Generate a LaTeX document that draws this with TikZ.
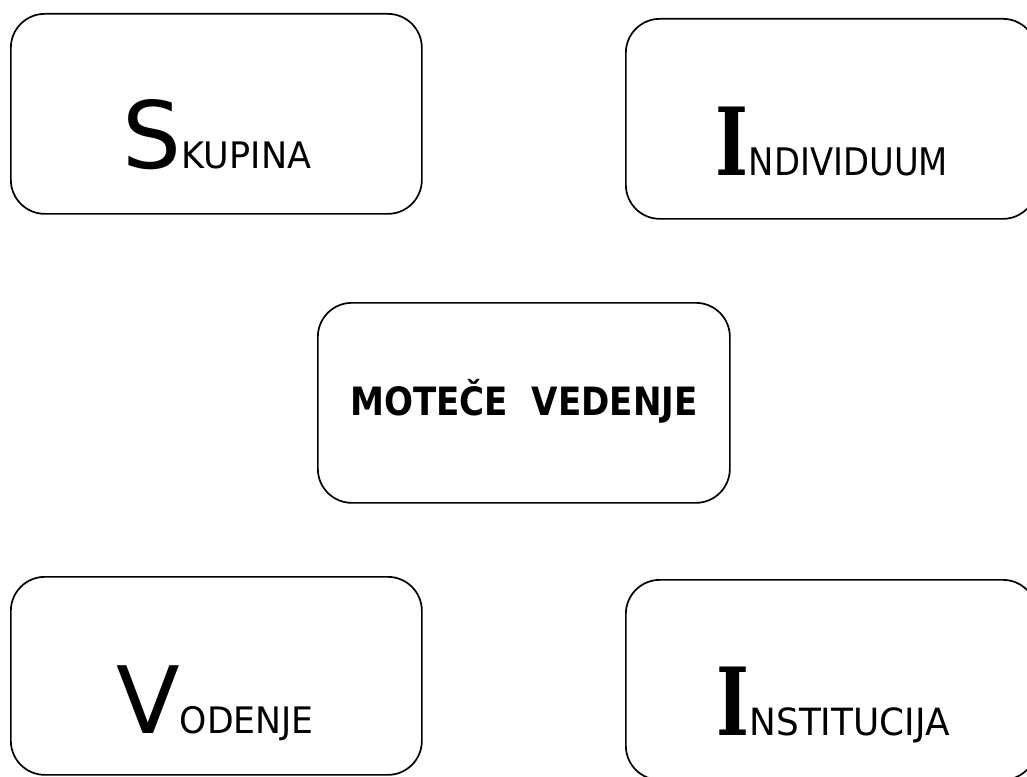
\documentclass[tikz,border=0pt]{standalone}
\usepackage{fontspec}
\setmainfont{DejaVu Sans}
\newfontfamily\slabfont{DejaVu Serif}

% large initial, slab initial and the narrowed capitals after them
\newcommand{\bigini}[1]{{\fontsize{93}{93}\selectfont #1}}
\newcommand{\bigslab}[1]{\scalebox{0.75}[1]{\slabfont\bfseries\fontsize{94}{94}\selectfont #1}}
\newcommand{\restcaps}[3]{\scalebox{#2}[1]{\fontsize{#1}{#1}\selectfont #3}}

\begin{document}
\begin{tikzpicture}[x=1pt,y=-1pt,
  card/.style={draw=black, line width=1.7pt, rounded corners=34pt,
    minimum width=411pt, minimum height=200pt, inner sep=0pt,
    anchor=north west},
  lbl/.style={inner sep=0pt, anchor=base, text=black}]
\useasboundingbox (0,0) rectangle (1027,776);

% frames
\node[card] (skupina) at (10,13) {};
\node[card] (individuum) at (625,18) {};
\node[card, minimum width=412pt] (vedenje) at (317,302) {};
\node[card, minimum height=198pt] (vodenje) at (10,576) {};
\node[card] (institucija) at (625,579) {};

% labels
\node[lbl] (tskupina) at (217,168) {\bigini{S}\restcaps{36.5}{0.96}{KUPINA}};
\node[lbl] (tindividuum) at (832,175) {\bigslab{I}\restcaps{38}{0.89}{NDIVIDUUM}};
\node[lbl] (tvedenje) at (524,415)
  {\scalebox{0.875}[1]{\fontsize{39}{39}\selectfont\bfseries MOTEČE\ \ VEDENJE}};
\node[lbl] (tvodenje) at (215,733) {\bigini{V}\restcaps{36.5}{0.95}{ODENJE}};
\node[lbl] (tinstitucija) at (833,735) {\bigslab{I}\restcaps{37.5}{0.955}{NSTITUCIJA}};
\end{tikzpicture}
\end{document}
